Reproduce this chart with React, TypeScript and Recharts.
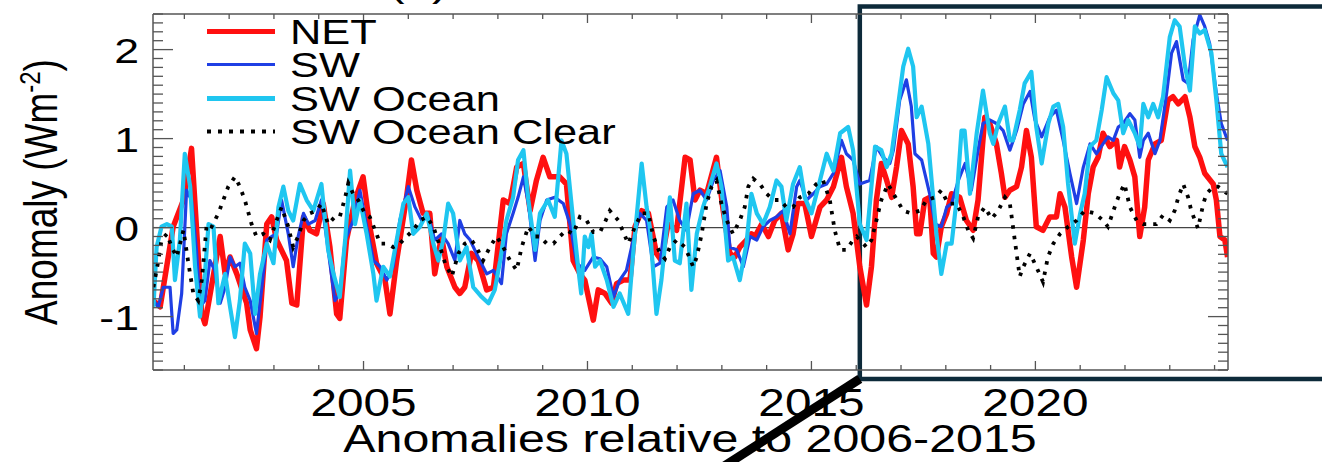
import React from 'react';
import {
  LineChart,
  Line,
  XAxis,
  YAxis,
  ReferenceLine,
  ReferenceArea,
  Legend,
} from 'recharts';

// [decimal year, anomaly W m-2]
const net: [number, number][] = [
  [2000.31, -0.82], [2000.46, -0.89], [2000.75, 0.01], [2000.98, 0.31], [2001.16, 0.89], [2001.39, -0.97],
  [2001.46, -1.08], [2001.8, -0.1], [2001.91, -0.52], [2002.02, -0.33], [2002.17, -0.52], [2002.39, -0.85],
  [2002.47, -1.15], [2002.61, -1.36], [2002.69, -1.0], [2002.84, 0.04], [2002.95, 0.12], [2003.06, -0.14],
  [2003.28, -0.37], [2003.4, -0.85], [2003.51, -0.87], [2003.66, 0.12], [2003.8, -0.03], [2003.95, -0.07],
  [2004.1, 0.27], [2004.25, -0.22], [2004.4, -0.97], [2004.47, -1.02], [2004.62, -0.14], [2004.81, 0.31],
  [2004.99, 0.57], [2005.14, 0.01], [2005.29, -0.4], [2005.48, -0.59], [2005.59, -0.97], [2005.74, -0.37],
  [2005.96, 0.34], [2006.07, 0.76], [2006.19, 0.42], [2006.33, 0.16], [2006.48, 0.16], [2006.59, -0.52],
  [2006.74, -0.1], [2006.86, -0.44], [2007.04, -0.67], [2007.15, -0.74], [2007.26, -0.67], [2007.41, -0.29],
  [2007.56, -0.37], [2007.75, -0.7], [2007.9, -0.67], [2008.12, 0.31], [2008.27, 0.27], [2008.42, 0.68],
  [2008.57, 0.72], [2008.72, 0.19], [2008.86, 0.53], [2009.01, 0.79], [2009.16, 0.57], [2009.38, 0.57],
  [2009.53, 0.49], [2009.68, -0.37], [2009.83, -0.52], [2009.94, -0.59], [2010.13, -1.04], [2010.24, -0.7],
  [2010.39, -0.74], [2010.54, -0.85], [2010.65, -0.63], [2010.8, -0.59], [2010.95, -0.59], [2011.06, 0.01],
  [2011.21, 0.19], [2011.36, 0.16], [2011.54, -0.29], [2011.65, -0.37], [2011.8, 0.04], [2011.99, -0.03],
  [2012.18, 0.79], [2012.29, 0.76], [2012.4, 0.31], [2012.51, 0.42], [2012.66, 0.38], [2012.88, 0.79],
  [2013.03, 0.19], [2013.18, -0.29], [2013.29, -0.33], [2013.4, -0.22], [2013.55, -0.14], [2013.66, -0.07],
  [2013.74, -0.1], [2013.89, 0.04], [2014.04, -0.1], [2014.18, 0.08], [2014.33, 0.16], [2014.48, -0.25],
  [2014.59, -0.07], [2014.7, 0.27], [2014.85, 0.27], [2015.0, -0.1], [2015.19, 0.23], [2015.34, 0.31],
  [2015.49, 0.46], [2015.67, 0.79], [2015.78, 0.46], [2015.93, 0.16], [2016.08, -0.44], [2016.23, -0.87],
  [2016.34, -0.44], [2016.45, 0.31], [2016.56, 0.72], [2016.68, 0.53], [2016.79, 0.34], [2016.9, 0.68],
  [2017.01, 1.09], [2017.16, 0.94], [2017.27, 0.46], [2017.35, -0.07], [2017.42, -0.07], [2017.53, 0.31],
  [2017.64, 0.34], [2017.72, -0.29], [2017.79, -0.33], [2017.9, 0.01], [2018.02, 0.16], [2018.13, 0.38],
  [2018.31, 0.34], [2018.46, 0.08], [2018.61, -0.03], [2018.72, 0.31], [2018.87, 1.24], [2018.98, 1.17],
  [2019.13, 0.94], [2019.24, 0.61], [2019.32, 0.34], [2019.43, 0.42], [2019.58, 0.46], [2019.69, 0.68],
  [2019.8, 1.09], [2019.91, 0.79], [2020.02, 0.01], [2020.17, -0.03], [2020.32, 0.12], [2020.47, 0.12],
  [2020.55, 0.38], [2020.66, 0.23], [2020.81, -0.33], [2020.92, -0.67], [2021.07, -0.14], [2021.18, 0.38],
  [2021.29, 0.68], [2021.4, 0.79], [2021.51, 1.06], [2021.66, 0.91], [2021.81, 0.98], [2021.88, 0.68],
  [2021.99, 0.91], [2022.11, 0.76], [2022.22, 0.57], [2022.33, -0.1], [2022.44, 0.23], [2022.52, 0.76],
  [2022.67, 0.94], [2022.81, 0.98], [2022.96, 1.43], [2023.07, 1.47], [2023.19, 1.39], [2023.34, 1.47],
  [2023.45, 1.24], [2023.56, 0.91], [2023.67, 0.79], [2023.78, 0.61], [2023.97, 0.49], [2024.04, 0.31],
  [2024.12, -0.1], [2024.23, -0.14], [2024.29, -0.33],
];

const sw: [number, number][] = [
  [2000.31, -0.82], [2000.42, -0.89], [2000.53, -0.67], [2000.68, -0.67], [2000.75, -1.19], [2000.83, -1.15],
  [2000.94, -0.74], [2001.05, 0.42], [2001.16, 0.31], [2001.27, -0.25], [2001.35, -0.89], [2001.46, -0.82],
  [2001.57, -0.37], [2001.68, -0.48], [2001.8, -0.85], [2001.91, -0.67], [2002.02, -0.33], [2002.13, -0.44],
  [2002.24, -0.4], [2002.35, -0.67], [2002.47, -0.82], [2002.61, -1.19], [2002.73, -0.67], [2002.84, -0.14],
  [2002.95, -0.1], [2003.06, -0.07], [2003.17, 0.31], [2003.32, -0.07], [2003.43, -0.44], [2003.54, -0.1],
  [2003.66, 0.16], [2003.77, 0.04], [2003.92, 0.08], [2004.06, 0.31], [2004.21, -0.25], [2004.36, -0.82],
  [2004.47, -0.74], [2004.59, -0.14], [2004.77, 0.08], [2004.92, 0.42], [2005.07, 0.01], [2005.22, -0.37],
  [2005.37, -0.44], [2005.52, -0.59], [2005.66, -0.44], [2005.81, 0.08], [2006.0, 0.46], [2006.15, 0.23],
  [2006.3, 0.08], [2006.45, 0.12], [2006.59, -0.14], [2006.74, -0.07], [2006.89, -0.18], [2007.04, -0.37],
  [2007.15, 0.08], [2007.26, -0.07], [2007.38, -0.14], [2007.52, -0.29], [2007.75, -0.52], [2007.9, -0.48],
  [2008.08, -0.63], [2008.19, -0.07], [2008.34, 0.16], [2008.45, 0.34], [2008.57, 0.57], [2008.68, 0.27],
  [2008.83, -0.37], [2008.94, 0.08], [2009.09, 0.31], [2009.27, 0.34], [2009.46, 0.27], [2009.61, 0.04],
  [2009.76, -0.4], [2009.94, -0.48], [2010.13, -0.33], [2010.28, -0.35], [2010.43, -0.44], [2010.58, -0.78],
  [2010.72, -0.59], [2010.87, -0.48], [2011.02, -0.14], [2011.17, 0.16], [2011.32, 0.08], [2011.47, -0.44],
  [2011.62, -0.4], [2011.77, 0.23], [2011.91, 0.31], [2012.06, 0.08], [2012.21, -0.03], [2012.36, 0.38],
  [2012.51, 0.42], [2012.66, 0.31], [2012.81, 0.53], [2012.96, 0.64], [2013.11, 0.23], [2013.18, -0.22],
  [2013.33, -0.25], [2013.48, -0.44], [2013.63, -0.1], [2013.78, -0.14], [2013.92, 0.01], [2014.07, 0.08],
  [2014.22, 0.12], [2014.37, 0.19], [2014.52, -0.07], [2014.67, 0.46], [2014.74, 0.53], [2014.89, 0.31],
  [2015.04, 0.38], [2015.19, 0.46], [2015.34, 0.49], [2015.49, 0.61], [2015.67, 0.98], [2015.78, 0.83],
  [2015.93, 0.76], [2016.08, 0.49], [2016.3, 0.53], [2016.45, 0.91], [2016.6, 0.79], [2016.75, 0.72],
  [2016.83, 0.87], [2016.97, 1.43], [2017.12, 1.66], [2017.23, 1.36], [2017.31, 0.83], [2017.46, 0.76],
  [2017.64, 0.38], [2017.76, 0.04], [2017.9, 0.01], [2018.02, 0.23], [2018.13, 0.27], [2018.28, 0.53],
  [2018.43, 0.72], [2018.57, 0.42], [2018.72, 0.87], [2018.83, 1.17], [2018.98, 1.21], [2019.13, 1.17],
  [2019.28, 1.09], [2019.43, 0.87], [2019.58, 1.09], [2019.73, 1.39], [2019.88, 1.53], [2019.99, 1.21],
  [2020.14, 1.02], [2020.32, 1.24], [2020.47, 1.32], [2020.62, 0.98], [2020.77, 0.61], [2020.92, 0.27],
  [2021.07, 0.68], [2021.22, 0.94], [2021.36, 0.83], [2021.51, 0.94], [2021.62, 1.02], [2021.74, 0.98],
  [2021.85, 1.13], [2021.96, 1.17], [2022.11, 1.28], [2022.22, 1.21], [2022.33, 0.79], [2022.41, 0.98],
  [2022.52, 1.06], [2022.67, 0.83], [2022.78, 0.98], [2022.93, 1.51], [2023.04, 1.96], [2023.15, 2.09],
  [2023.3, 1.66], [2023.41, 1.62], [2023.52, 2.11], [2023.67, 2.39], [2023.78, 2.26], [2023.89, 2.07],
  [2024.04, 1.51], [2024.15, 1.17], [2024.29, 0.98],
];

const swOcean: [number, number][] = [
  [2000.31, -0.89], [2000.38, -0.22], [2000.49, 0.01], [2000.61, 0.04], [2000.72, 0.01], [2000.79, -0.59],
  [2000.9, -0.14], [2001.01, 0.83], [2001.13, 0.46], [2001.24, -0.44], [2001.35, -1.0], [2001.46, -0.52],
  [2001.54, 0.04], [2001.65, 0.01], [2001.76, -0.85], [2001.91, -0.52], [2002.02, -0.89], [2002.13, -1.23],
  [2002.24, -0.82], [2002.35, -0.18], [2002.47, -0.29], [2002.58, -0.97], [2002.69, -0.52], [2002.84, -0.18],
  [2002.99, -0.4], [2003.1, 0.23], [2003.21, 0.46], [2003.32, 0.19], [2003.43, 0.08], [2003.58, 0.49],
  [2003.73, 0.31], [2003.88, 0.19], [2004.06, 0.49], [2004.21, -0.25], [2004.33, -0.52], [2004.47, -0.78],
  [2004.59, -0.14], [2004.7, 0.64], [2004.81, 0.04], [2004.92, 0.31], [2005.07, -0.07], [2005.22, -0.52],
  [2005.29, -0.82], [2005.44, -0.44], [2005.59, -0.55], [2005.74, -0.14], [2005.89, 0.27], [2006.0, 0.34],
  [2006.11, -0.07], [2006.26, 0.01], [2006.41, 0.16], [2006.56, -0.18], [2006.67, -0.37], [2006.78, -0.14],
  [2006.89, 0.27], [2007.0, 0.16], [2007.15, -0.37], [2007.3, -0.22], [2007.45, -0.67], [2007.64, -0.78],
  [2007.79, -0.85], [2007.93, -0.7], [2008.05, -0.37], [2008.19, 0.08], [2008.34, 0.34], [2008.45, 0.76],
  [2008.57, 0.87], [2008.68, 0.31], [2008.83, -0.25], [2008.94, 0.16], [2009.12, 0.31], [2009.27, 0.12],
  [2009.42, 0.98], [2009.53, 0.83], [2009.68, 0.08], [2009.79, -0.44], [2009.86, -0.74], [2009.94, -0.1],
  [2010.02, -0.22], [2010.09, -0.07], [2010.17, -0.44], [2010.28, -0.37], [2010.43, -0.59], [2010.58, -0.89],
  [2010.72, -0.74], [2010.91, -0.97], [2011.02, -0.29], [2011.21, 0.72], [2011.32, 0.23], [2011.39, 0.01],
  [2011.54, -0.97], [2011.65, -0.59], [2011.84, 0.34], [2011.95, -0.37], [2012.06, -0.4], [2012.21, 0.27],
  [2012.32, -0.7], [2012.44, -0.07], [2012.58, 0.23], [2012.73, 0.46], [2012.88, 0.72], [2012.99, 0.46],
  [2013.14, -0.37], [2013.25, -0.33], [2013.4, -0.59], [2013.55, -0.18], [2013.66, 0.38], [2013.78, 0.16],
  [2013.92, 0.04], [2014.07, 0.23], [2014.22, 0.53], [2014.33, 0.46], [2014.44, 0.08], [2014.59, 0.49],
  [2014.74, 0.68], [2014.85, 0.34], [2015.0, 0.16], [2015.19, 0.53], [2015.34, 0.83], [2015.49, 0.64],
  [2015.64, 1.06], [2015.82, 1.13], [2015.93, 0.87], [2016.08, 0.04], [2016.23, -0.14], [2016.42, 0.91],
  [2016.56, 0.87], [2016.68, 0.68], [2016.79, 0.83], [2016.9, 1.24], [2017.05, 1.81], [2017.16, 2.01],
  [2017.27, 1.81], [2017.35, 1.24], [2017.46, 1.36], [2017.61, 0.94], [2017.79, -0.07], [2017.9, -0.52],
  [2018.02, -0.18], [2018.13, -0.18], [2018.24, 0.31], [2018.35, 1.09], [2018.42, 1.09], [2018.54, 0.38],
  [2018.69, 1.06], [2018.83, 1.54], [2018.98, 1.06], [2019.06, 0.94], [2019.17, 1.17], [2019.32, 1.36],
  [2019.43, 0.98], [2019.5, 0.98], [2019.65, 1.32], [2019.76, 1.62], [2019.91, 1.75], [2020.02, 1.13],
  [2020.14, 0.72], [2020.29, 1.17], [2020.4, 1.36], [2020.51, 1.39], [2020.62, 1.13], [2020.73, 0.49],
  [2020.88, -0.18], [2021.0, 0.16], [2021.1, 0.38], [2021.22, 0.91], [2021.36, 0.98], [2021.48, 1.32],
  [2021.59, 1.69], [2021.74, 1.51], [2021.85, 1.43], [2021.96, 1.06], [2022.07, 1.21], [2022.22, 1.06],
  [2022.33, 0.91], [2022.41, 1.39], [2022.52, 1.24], [2022.63, 1.39], [2022.74, 1.24], [2022.85, 1.47],
  [2023.0, 2.14], [2023.11, 2.33], [2023.22, 2.26], [2023.34, 1.81], [2023.45, 1.54], [2023.56, 2.26],
  [2023.67, 2.18], [2023.78, 2.22], [2023.93, 1.96], [2024.04, 1.43], [2024.15, 0.83], [2024.29, 0.68],
];

const swOceanClear: [number, number][] = [
  [2000.31, -0.67], [2000.42, -0.37], [2000.49, -0.14], [2000.61, -0.07], [2000.72, -0.22], [2000.83, -0.33],
  [2000.98, -0.03], [2001.09, -0.4], [2001.2, -0.74], [2001.31, -0.82], [2001.39, -0.59], [2001.5, 0.04],
  [2001.61, 0.01], [2001.76, 0.16], [2001.87, 0.31], [2001.98, 0.46], [2002.13, 0.57], [2002.24, 0.46],
  [2002.35, 0.31], [2002.5, 0.04], [2002.61, -0.1], [2002.76, -0.07], [2002.91, -0.14], [2003.06, 0.08],
  [2003.17, 0.23], [2003.32, 0.01], [2003.43, -0.22], [2003.54, -0.1], [2003.66, 0.08], [2003.8, 0.16],
  [2003.95, 0.19], [2004.06, 0.27], [2004.21, 0.04], [2004.36, 0.12], [2004.47, 0.12], [2004.59, 0.34],
  [2004.66, 0.5], [2004.77, 0.38], [2004.88, 0.31], [2005.03, 0.16], [2005.14, 0.12], [2005.26, -0.03],
  [2005.37, -0.18], [2005.52, -0.18], [2005.66, -0.22], [2005.81, -0.18], [2005.96, -0.1], [2006.11, -0.03],
  [2006.26, 0.08], [2006.41, 0.12], [2006.56, 0.01], [2006.71, -0.22], [2006.82, -0.4], [2006.97, -0.55],
  [2007.12, -0.29], [2007.26, -0.18], [2007.41, -0.14], [2007.52, -0.22], [2007.67, -0.37], [2007.82, -0.22],
  [2007.97, -0.1], [2008.12, -0.22], [2008.27, -0.37], [2008.42, -0.48], [2008.53, -0.22], [2008.68, 0.01],
  [2008.83, -0.1], [2008.94, -0.1], [2009.09, -0.18], [2009.24, -0.18], [2009.38, -0.1], [2009.53, -0.03],
  [2009.68, -0.07], [2009.83, 0.12], [2009.98, 0.08], [2010.13, -0.05], [2010.28, -0.05], [2010.39, 0.06],
  [2010.5, 0.19], [2010.69, 0.08], [2010.8, -0.05], [2010.91, -0.18], [2011.06, 0.01], [2011.21, 0.16],
  [2011.36, 0.16], [2011.47, -0.1], [2011.62, -0.29], [2011.73, -0.35], [2011.84, -0.22], [2011.99, -0.14],
  [2012.18, -0.22], [2012.36, -0.44], [2012.44, -0.33], [2012.55, -0.07], [2012.66, 0.27], [2012.77, 0.46],
  [2012.88, 0.53], [2012.99, 0.27], [2013.11, 0.08], [2013.25, -0.07], [2013.4, 0.08], [2013.51, 0.23],
  [2013.59, 0.46], [2013.7, 0.55], [2013.85, 0.49], [2014.0, 0.38], [2014.15, 0.31], [2014.3, 0.31],
  [2014.44, 0.23], [2014.59, 0.23], [2014.74, 0.34], [2014.93, 0.38], [2015.11, 0.49], [2015.26, 0.53],
  [2015.41, 0.31], [2015.52, -0.03], [2015.64, -0.25], [2015.78, -0.25], [2015.93, -0.14], [2016.01, -0.1],
  [2016.23, -0.22], [2016.34, -0.14], [2016.45, 0.08], [2016.56, 0.31], [2016.71, 0.49], [2016.83, 0.38],
  [2017.05, 0.19], [2017.23, 0.16], [2017.42, 0.19], [2017.57, 0.31], [2017.76, 0.34], [2017.9, 0.42],
  [2018.05, 0.27], [2018.24, 0.27], [2018.39, 0.12], [2018.5, -0.03], [2018.61, -0.12], [2018.72, 0.12],
  [2018.87, 0.23], [2019.02, 0.1], [2019.17, 0.19], [2019.32, 0.34], [2019.43, 0.27], [2019.5, 0.01],
  [2019.58, -0.29], [2019.65, -0.55], [2019.73, -0.44], [2019.88, -0.29], [2020.02, -0.44], [2020.17, -0.61],
  [2020.28, -0.33], [2020.4, -0.18], [2020.55, -0.07], [2020.73, 0.01], [2020.92, 0.08], [2021.1, 0.19],
  [2021.33, 0.16], [2021.51, 0.08], [2021.62, 0.01], [2021.77, 0.23], [2021.88, 0.38], [2021.99, 0.49],
  [2022.11, 0.23], [2022.26, 0.08], [2022.41, 0.04], [2022.59, 0.04], [2022.7, 0.04], [2022.85, 0.14],
  [2023.0, 0.08], [2023.11, 0.19], [2023.19, 0.34], [2023.3, 0.49], [2023.41, 0.34], [2023.48, 0.19],
  [2023.63, -0.01], [2023.75, 0.27], [2023.82, 0.38], [2023.97, 0.46], [2024.08, 0.46], [2024.29, 0.38],
];

const seriesNames = ['NET', 'SW', 'SW Ocean', 'SW Ocean Clear'];
const xDomain = [2000.3, 2024.3];
const yDomain = [-1.6, 2.4];
const xLabelYears = [2005, 2010, 2015, 2020];
const yLabelValues = [-1, 0, 1, 2];
const yearTicks = [
  2001, 2002, 2003, 2004, 2005, 2006, 2007, 2008, 2009, 2010, 2011, 2012,
  2013, 2014, 2015, 2016, 2017, 2018, 2019, 2020, 2021, 2022, 2023, 2024,
];
const yMinorTicks = Array.from({ length: 41 }, (_, i) => Math.round(-16 + i) / 10);

// box marking the zoomed period, and the connector toward the lower panel
const zoomBox = { x1: 2016.08, x2: 2027, y1: -1.7, y2: 2.484 };
const zoomConnector = [
  { x: 2016.08, y: -1.7 },
  { x: 2012.71, y: -2.79 },
];

const FONT = '"Liberation Sans", Arial, Helvetica, sans-serif';
const STRETCH = 1.24;
const AXIS = '#555';
const RED = '#ff1010';
const BLUE = '#1f3fe4';
const CYAN = '#1fc6f0';
const BOX = '#0d2a3a';

const toPoints = (pairs: [number, number][]) => pairs.map(([t, v]) => ({ t, v }));

const isMajorY = (v: number) => Math.abs(v - Math.round(v)) < 1e-6;

function BottomTick({ x, y, payload }: any) {
  const major = xLabelYears.includes(payload.value);
  return (
    <g>
      <line x1={x} x2={x} y1={y} y2={y - (major ? 9 : 5)} stroke={AXIS} strokeWidth={1.3} />
      {major && (
        <text
          transform={`translate(${x},${y + 46}) scale(${STRETCH},1)`}
          textAnchor="middle"
          fontSize={38.5}
          fontFamily={FONT}
          fill="#000"
        >
          {payload.value}
        </text>
      )}
    </g>
  );
}

function TopTick({ x, y, payload }: any) {
  const major = xLabelYears.includes(payload.value);
  return <line x1={x} x2={x} y1={y} y2={y + (major ? 9 : 5)} stroke={AXIS} strokeWidth={1.3} />;
}

function LeftTick({ x, y, payload }: any) {
  const major = isMajorY(payload.value);
  const showLabel = major && yLabelValues.includes(Math.round(payload.value));
  return (
    <g>
      <line x1={x} x2={x + (major ? 20 : 10)} y1={y} y2={y} stroke={AXIS} strokeWidth={1.3} />
      {showLabel && (
        <text
          transform={`translate(${x - 14},${y + 13}) scale(${STRETCH},1)`}
          textAnchor="end"
          fontSize={36}
          fontFamily={FONT}
          fill="#000"
        >
          {Math.round(payload.value)}
        </text>
      )}
    </g>
  );
}

function RightTick({ x, y, payload }: any) {
  const major = isMajorY(payload.value);
  return <line x1={x} x2={x - (major ? 20 : 10)} y1={y} y2={y} stroke={AXIS} strokeWidth={1.3} />;
}

const legendStyles = [
  { color: RED, width: 5, dash: undefined },
  { color: BLUE, width: 3, dash: undefined },
  { color: CYAN, width: 5, dash: undefined },
  { color: '#000', width: 4, dash: '4 7' },
];

function LegendBox() {
  return (
    <div style={{ fontFamily: FONT, color: '#000' }}>
      {seriesNames.map((name, i) => (
        <div key={name} style={{ display: 'flex', alignItems: 'center', height: 33.3 }}>
          <svg width={72} height={33}>
            <line
              x1={2}
              x2={70}
              y1={16.5}
              y2={16.5}
              stroke={legendStyles[i].color}
              strokeWidth={legendStyles[i].width}
              strokeDasharray={legendStyles[i].dash}
            />
          </svg>
          <span
            style={{
              fontSize: 35,
              lineHeight: '33px',
              marginLeft: 13,
              display: 'inline-block',
              whiteSpace: 'nowrap',
              transform: `scaleX(${STRETCH})`,
              transformOrigin: 'left center',
            }}
          >
            {name}
          </span>
        </div>
      ))}
    </div>
  );
}

export default function App() {
  return (
    <div
      style={{
        position: 'absolute',
        left: 0,
        top: 0,
        width: 1322,
        height: 462,
        background: '#fff',
        overflow: 'hidden',
      }}
    >
      <div
        style={{
          position: 'absolute',
          left: 388,
          top: -38,
          fontFamily: FONT,
          fontSize: 40,
          lineHeight: '40px',
          transform: `scaleX(${STRETCH})`,
          transformOrigin: 'left center',
        }}
      >
        (a)
      </div>
      <LineChart width={1322} height={462} margin={{ top: 13, right: 93, left: 93, bottom: 32 }}>
        <XAxis
          dataKey="t"
          type="number"
          domain={xDomain}
          allowDataOverflow
          ticks={yearTicks}
          interval={0}
          height={60}
          tickSize={0}
          tickMargin={0}
          tickLine={false}
          axisLine={{ stroke: AXIS, strokeWidth: 1.5 }}
          tick={BottomTick}
          label={() => (
            <text
              transform={`translate(690,452) scale(${STRETCH},1)`}
              textAnchor="middle"
              fontSize={39}
              fontFamily={FONT}
              fill="#000"
            >
              Anomalies relative to 2006-2015
            </text>
          )}
        />
        <XAxis
          xAxisId="top"
          orientation="top"
          dataKey="t"
          type="number"
          domain={xDomain}
          allowDataOverflow
          ticks={yearTicks}
          interval={0}
          height={1}
          tickSize={0}
          tickMargin={0}
          tickLine={false}
          axisLine={{ stroke: AXIS, strokeWidth: 1.5 }}
          tick={TopTick}
        />
        <YAxis
          type="number"
          domain={yDomain}
          allowDataOverflow
          ticks={yMinorTicks}
          interval={0}
          width={60}
          tickSize={0}
          tickMargin={0}
          tickLine={false}
          axisLine={{ stroke: AXIS, strokeWidth: 1.5 }}
          tick={LeftTick}
          label={() => (
            <text
              transform={`translate(57,192) rotate(-90) scale(1,${STRETCH})`}
              textAnchor="middle"
              fontSize={37}
              fontFamily={FONT}
              fill="#000"
            >
              Anomaly (Wm
              <tspan dy={-14} fontSize={24}>
                -2
              </tspan>
              <tspan dy={14}>)</tspan>
            </text>
          )}
        />
        <YAxis
          yAxisId="right"
          orientation="right"
          type="number"
          domain={yDomain}
          allowDataOverflow
          ticks={yMinorTicks}
          interval={0}
          width={1}
          tickSize={0}
          tickMargin={0}
          tickLine={false}
          axisLine={{ stroke: AXIS, strokeWidth: 1.5 }}
          tick={RightTick}
        />
        <ReferenceLine y={0} stroke="#444" strokeWidth={1.2} />
        <Line
          data={toPoints(net)}
          dataKey="v"
          name={seriesNames[0]}
          type="linear"
          stroke={RED}
          strokeWidth={5.5}
          strokeLinejoin="round"
          dot={false}
          isAnimationActive={false}
        />
        <Line
          data={toPoints(sw)}
          dataKey="v"
          name={seriesNames[1]}
          type="linear"
          stroke={BLUE}
          strokeWidth={3.2}
          strokeLinejoin="round"
          dot={false}
          isAnimationActive={false}
        />
        <Line
          data={toPoints(swOcean)}
          dataKey="v"
          name={seriesNames[2]}
          type="linear"
          stroke={CYAN}
          strokeWidth={4.2}
          strokeLinejoin="round"
          dot={false}
          isAnimationActive={false}
        />
        <Line
          data={toPoints(swOceanClear)}
          dataKey="v"
          name={seriesNames[3]}
          type="linear"
          stroke="#000"
          strokeWidth={3.8}
          strokeDasharray="3.5 7"
          dot={false}
          isAnimationActive={false}
        />
        <ReferenceArea
          x1={zoomBox.x1}
          x2={zoomBox.x2}
          y1={zoomBox.y1}
          y2={zoomBox.y2}
          ifOverflow="visible"
          fill="none"
          fillOpacity={0}
          stroke={BOX}
          strokeWidth={4.5}
        />
        <ReferenceLine segment={zoomConnector} ifOverflow="visible" stroke="#000" strokeWidth={9} />
        <Legend
          layout="vertical"
          align="center"
          verticalAlign="middle"
          content={() => <LegendBox />}
          wrapperStyle={{ left: 205, top: 15, width: 520, height: 140 }}
        />
      </LineChart>
    </div>
  );
}
